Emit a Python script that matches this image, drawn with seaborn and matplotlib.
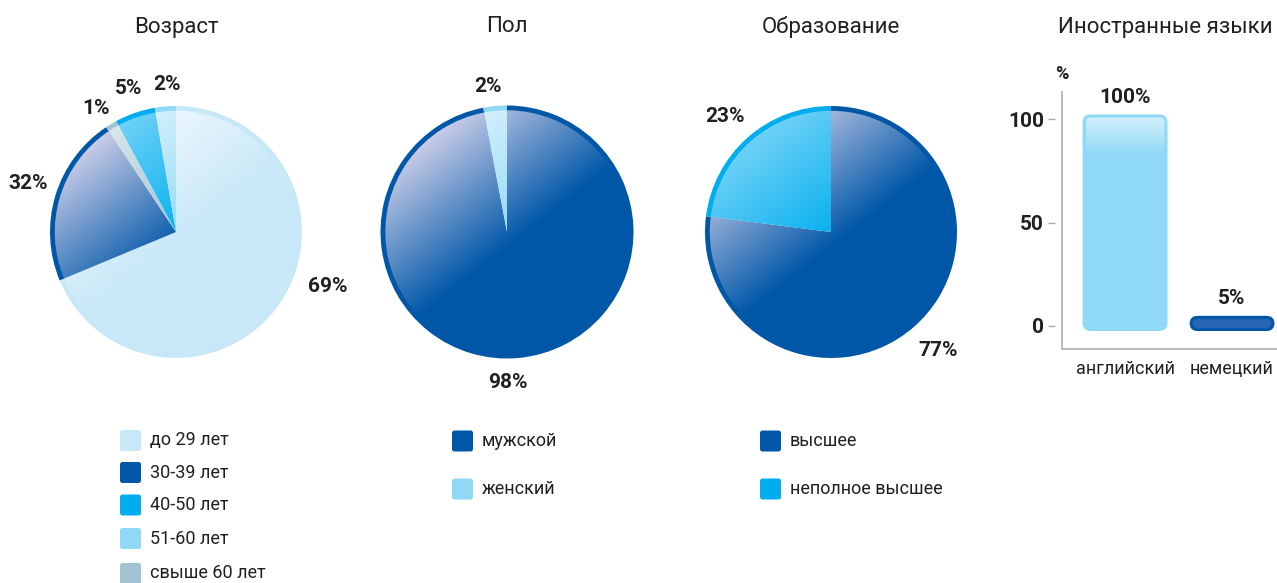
import numpy as np
import matplotlib
matplotlib.use("Agg")
import matplotlib.pyplot as plt
import seaborn as sns
from matplotlib.patches import FancyBboxPatch, Wedge
from matplotlib.transforms import IdentityTransform
from matplotlib.path import Path

# ---------------- data ----------------
age_categories = ['до 29 лет', '30-39 лет', '40-50 лет', '51-60 лет', 'свыше 60 лет']
age_pie_order = ['до 29 лет', '30-39 лет', 'свыше 60 лет', '40-50 лет', '51-60 лет']
age_shares = [69, 22, 1.5, 5.2, 2.7]          # slice sizes as drawn
age_pct_labels = ['69%', '32%', '1%', '5%', '2%']

sex_categories = ['мужской', 'женский']
sex_shares = [97, 3]
sex_pct_labels = ['98%', '2%']

edu_categories = ['высшее', 'неполное высшее']
edu_shares = [77, 23]
edu_pct_labels = ['77%', '23%']

lang_categories = ['английский', 'немецкий']
lang_values = [100, 2.5]                      # bar heights as drawn
lang_pct_labels = ['100%', '5%']
bar_yticks = [0, 50, 100]

titles = ['Возраст', 'Пол', 'Образование', 'Иностранные языки']

# ---------------- style ----------------
W, H = 1277, 583
DARK = '#0057a8'
TXT = '#231f20'
palette = {
    'до 29 лет': '#c8e8f8', '30-39 лет': DARK, '40-50 лет': '#00aeef',
    '51-60 лет': '#8fd8f6', 'свыше 60 лет': '#a3c2d3',
    'мужской': DARK, 'женский': '#8fd8f6',
    'высшее': DARK, 'неполное высшее': '#00aeef',
    'английский': '#8fd8f6', 'немецкий': DARK,
}
gloss_strength = {DARK: 0.92, '#00aeef': 0.45, '#8fd8f6': 0.7,
                  '#c8e8f8': 0.8, '#a3c2d3': 0.6}

sns.set_theme(style='white')
plt.rcParams['font.family'] = ['Roboto', 'DejaVu Sans']

fig = plt.figure(figsize=(W / 100, H / 100), dpi=100)


def px_axes(x0, y0, x1, y1):
    return fig.add_axes([x0 / W, 1 - y1 / H, (x1 - x0) / W, (y1 - y0) / H])


def fig_text(x, y, s, **kw):
    fig.text(x / W, 1 - y / H, s, **kw)


def gradient_overlay(ax, clip, rgb, amax, angle=128, u_end=-0.1):
    n = 300
    xs = np.linspace(-1, 1, n)
    X, Y = np.meshgrid(xs, xs[::-1])
    a = np.radians(angle)
    U = X * np.cos(a) + Y * np.sin(a)
    s = np.clip((U - u_end) / (1 - u_end), 0, 1)
    rgba = np.zeros((n, n, 4))
    rgba[..., :3] = rgb
    rgba[..., 3] = amax * s
    im = ax.imshow(rgba, extent=[-1, 1, -1, 1], zorder=3,
                   interpolation='bilinear', aspect='equal')
    im.set_clip_path(clip)


def draw_pie(center, radius, order, shares, pct_labels, label_pos, title):
    cx, cy = center
    ax = px_axes(cx - radius, cy - radius, cx + radius, cy + radius)
    wedges, _ = ax.pie(shares, colors=[palette[c] for c in order],
                       startangle=90, counterclock=False, radius=1,
                       wedgeprops=dict(linewidth=0))
    ax.set_xlim(-1, 1)
    ax.set_ylim(-1, 1)
    for w, c in zip(wedges, order):
        inner = Wedge((0, 0), 0.962, w.theta1, w.theta2, transform=ax.transData)
        col = palette[c]
        rgb = (0.89, 0.86, 0.94) if col == DARK else (1, 1, 1)
        gradient_overlay(ax, inner, rgb, gloss_strength[col])
    ax.set_xlim(-1, 1)
    ax.set_ylim(-1, 1)
    ax.axis('off')
    for s, (x, y) in zip(pct_labels, label_pos):
        fig_text(x, y, s, ha='center', va='center', fontsize=15,
                 fontweight='bold', color=TXT)
    fig_text(cx, 27, title, ha='center', va='center', fontsize=16, color=TXT)


def legend_block(x_sq, x_txt, ys, cats):
    for y, c in zip(ys, cats):
        p = FancyBboxPatch((x_sq, H - y - 10.5), 21, 21,
                           boxstyle='round,pad=0,rounding_size=2.5',
                           transform=IdentityTransform(),
                           facecolor=palette[c], edgecolor='none')
        fig.add_artist(p)
        fig_text(x_txt, y, c, ha='left', va='center', fontsize=13, color=TXT)


# ---------------- pies ----------------
draw_pie((176, 232), 126, age_pie_order, age_shares, age_pct_labels,
         [(328, 287), (28, 184), (96, 108), (129, 89), (167, 85)], titles[0])
draw_pie((507, 232), 126.5, sex_categories, sex_shares, sex_pct_labels,
         [(508, 382), (488, 86)], titles[1])
draw_pie((831, 232), 126, edu_categories, edu_shares, edu_pct_labels,
         [(938, 350), (725, 116)], titles[2])

legend_block(120, 150, [440.5, 472.5, 505, 538.5, 573.5], age_categories)
legend_block(452, 482, [441, 489], sex_categories)
legend_block(760, 790, [441, 489], edu_categories)

# ---------------- bar chart ----------------
axb = px_axes(1062, 92, 1277, 349)
sns.barplot(x=lang_categories, y=lang_values, hue=lang_categories,
            palette=[palette[c] for c in lang_categories], width=0.7,
            ax=axb, legend=False)
axb.set_xlim(-0.589, 1.42)
axb.set_ylim(-11.14, 113.3)
axb.set_facecolor('none')
for s in ['top', 'right']:
    axb.spines[s].set_visible(False)
for s in ['left', 'bottom']:
    axb.spines[s].set_color('#b5b5b5')
    axb.spines[s].set_linewidth(1.3)
axb.set_yticks(bar_yticks)
axb.set_yticklabels([str(v) for v in bar_yticks], fontsize=15,
                    fontweight='bold', color=TXT)
axb.tick_params(axis='y', length=0, pad=13, left=True)
axb.tick_params(axis='x', length=0, pad=8, labelsize=13, labelcolor=TXT)
axb.set_xlabel('')
axb.set_ylabel('')
for t in axb.yaxis.get_major_ticks():
    t.tick1line.set_marker(Path([(-1, 0), (-0.5, 0)]))
    t.tick1line.set_markersize(20)
    t.tick1line.set_markeredgecolor('#aaaaaa')
    t.tick1line.set_markeredgewidth(1.0)

fig_text(1062, 74, '%', ha='center', va='center', fontsize=13,
         fontweight='bold', color=TXT)

for p in list(axb.patches):
    bb = p.get_extents()
    idx = int(round(p.get_x() + p.get_width() / 2))
    cat = lang_categories[idx]
    col = palette[cat]
    p.set_visible(False)
    pad = 5
    outer = FancyBboxPatch((bb.x0 - pad, bb.y0 - pad), bb.width + 2 * pad,
                           bb.height + 2 * pad,
                           boxstyle='round,pad=0,rounding_size=8',
                           transform=IdentityTransform(), facecolor=col,
                           edgecolor='none', zorder=2)
    axb.add_artist(outer)
    ins = 3
    ix0, iy0 = bb.x0 - pad + ins, bb.y0 - pad + ins
    iw, ih = bb.width + 2 * (pad - ins), bb.height + 2 * (pad - ins)
    inner = FancyBboxPatch((ix0, iy0), iw, ih,
                           boxstyle='round,pad=0,rounding_size=5',
                           transform=IdentityTransform(),
                           facecolor=(col if col != DARK else '#2766b4'),
                           edgecolor='none', zorder=3)
    axb.add_artist(inner)
    if col != DARK:
        n = 200
        d = np.linspace(0, ih, n)
        grad = np.zeros((n, 1, 4))
        grad[..., :3] = 1.0
        grad[:, 0, 3] = 0.6 * np.clip(1 - d / 38.0, 0, 1)
        im = axb.imshow(grad, extent=[ix0, ix0 + iw, iy0, iy0 + ih],
                        origin='upper', transform=IdentityTransform(),
                        aspect='auto', zorder=4, interpolation='bilinear')
        im.set_clip_path(inner)
    axb.annotate(lang_pct_labels[idx], (idx, lang_values[idx]),
                 xytext=(0, 16), textcoords='offset points',
                 ha='center', va='center', fontsize=15, fontweight='bold',
                 color=TXT)

axb.set_xlim(-0.589, 1.42)
axb.set_ylim(-11.14, 113.3)
fig_text(1165, 27, titles[3], ha='center', va='center', fontsize=16, color=TXT)

fig.savefig('out.png', dpi=100)
